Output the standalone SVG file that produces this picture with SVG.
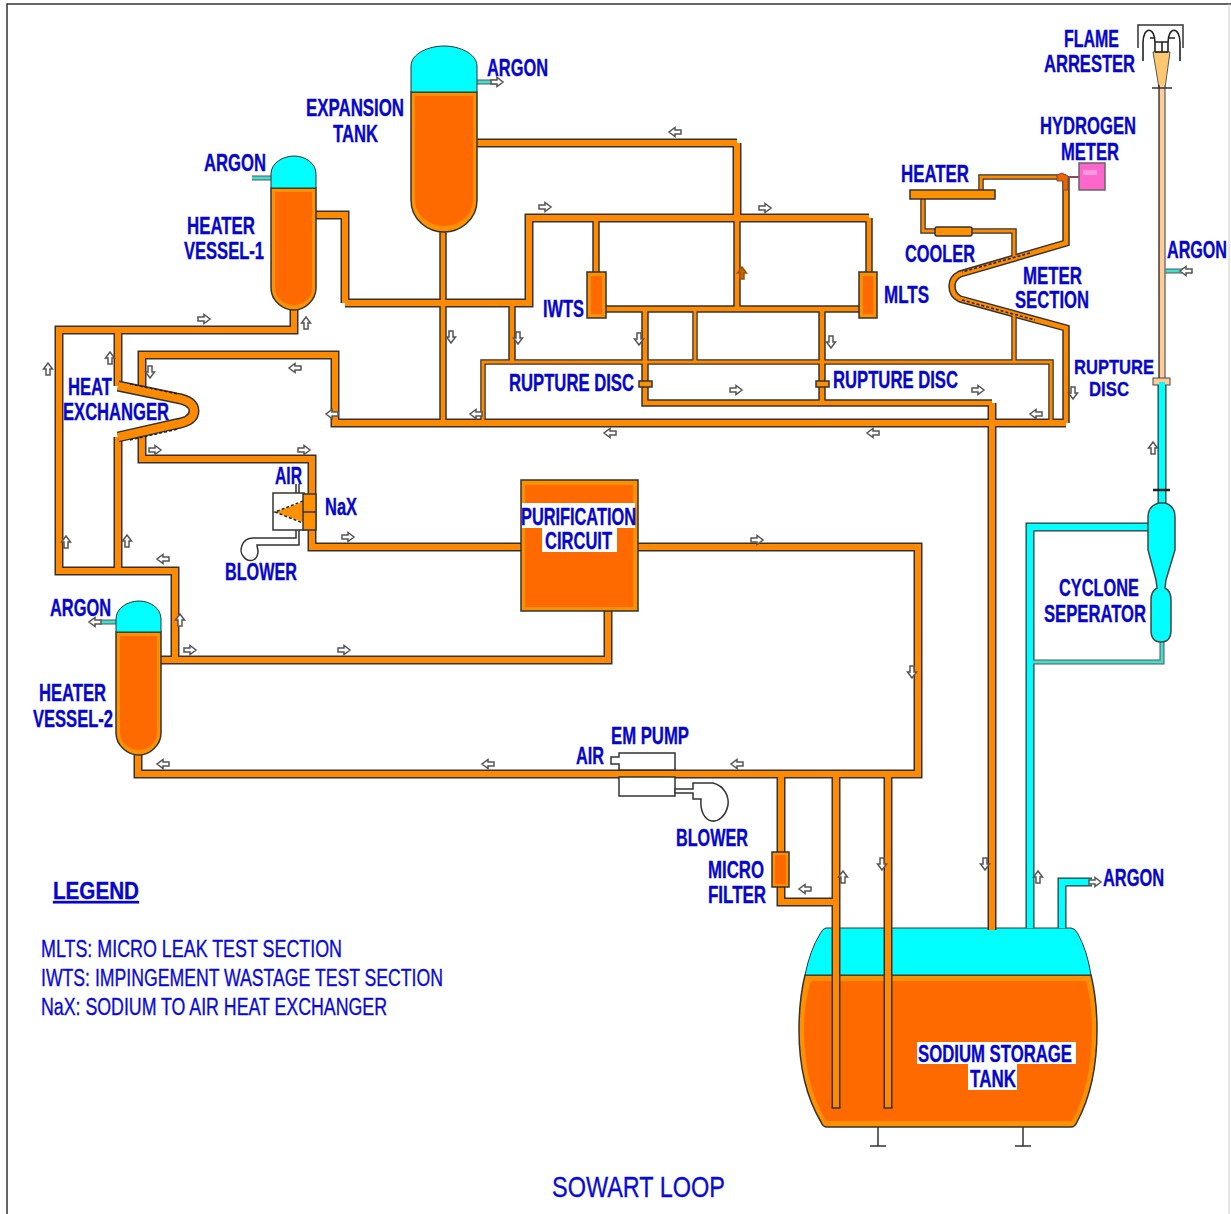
<svg xmlns="http://www.w3.org/2000/svg" width="1231" height="1214" viewBox="0 0 1231 1214">
<style>
text{font-family:"Liberation Sans",Arial,sans-serif;font-weight:bold;font-size:23px;fill:#0606CC;stroke:#0606CC;stroke-width:.35}
.r{font-weight:normal;fill:#0A0AD8;stroke:#0A0AD8;stroke-width:.35}
.sm{font-size:21px}
.s{stroke:#333;stroke-width:1.5}
.or{fill:#FF9000}.in{fill:#FF6A00}.cy{fill:#00FFFF}
.ln{fill:none;stroke:#333;stroke-width:1.5}
.wb{fill:#fff;stroke:#333;stroke-width:1.5}
.lb{fill:#fff}
.p{fill:none;stroke-linejoin:miter;stroke-linecap:butt}
.ar{fill:#fff;stroke:#555;stroke-width:1.5}
.dash{fill:none;stroke:#222;stroke-width:1.500;stroke-dasharray:3 2}
</style>
<defs>
<path id="a" d="M-6-2H0V-4.500L6 0 0 4.500V2H-6Z"/>
<g id="main">
<path d="M477 143H737"/>
<path d="M737 143V218"/>
<path d="M345 303H529V218H869"/>
<path d="M316 215H345V303"/>
<path d="M294 310V330H59V571H175V660"/>
<path d="M161 660H608V611"/>
<path d="M118 571V437"/>
<path d="M118 330V386"/>
<path d="M142 392V355H335V423H1066"/>
<path d="M142 432V459H312V547H521"/>
<path d="M638 547H918V774H138V755"/>
<path d="M781 774V852"/>
<path d="M781 887V902H836"/>
<path d="M836 774V1108"/>
<path d="M888 774V1108"/>
<path d="M992 403V930"/>
</g>
<g id="mid">
<path d="M737 218V309"/>
<path d="M596 218V272"/>
<path d="M869 218V272"/>
<path d="M606 309H859"/>
<path d="M645 309V403H992"/>
<path d="M822 309V403"/>
<path d="M512 303V362"/>
<path d="M443 232V423"/>
<path d="M1066 423V328L960 299Q952 295 952 286 952 278 960 274L1066 243V178"/>
</g>
<g id="thin">
<path d="M483 423V362H1051V423"/>
<path d="M695 309V362"/>
<path d="M1014 362V315"/>
<path d="M1014 256V231H923V199"/>
<path d="M981 190V177H1066"/>
</g>
<g id="cyanpipe">
<path d="M1030 928V527H1149"/>
<path d="M1062 928V882H1092"/>
<path d="M1162 385V505"/>
</g>
<g id="cyanthin">
<path d="M1162 642V662H1032"/>
<path d="M1165 271H1182"/>
<path d="M477 82H497"/>
<path d="M100 622H116"/>
<path d="M271 178H252"/>
</g>
</defs>

<g id="frame"><path d="M1231 4H7V1214" fill="none" stroke="#333" stroke-width="1.500"/><path d="M1229 4V1214" fill="none" stroke="#ccc"/></g>

<g id="sodium-storage-tank">
<path class="or s" d="M805 975H1091Q1097 1000 1097 1030 1097 1085 1077 1122 1075 1127 1071 1127H827Q823 1127 821 1122 799 1085 799 1030 799 1000 805 975Z"/>
<path class="in" d="M811 981H1086Q1092 1003 1092 1030 1092 1084 1072 1121H826Q804 1084 804 1030 804 1003 811 981Z"/>
<path class="cy" stroke="#333" d="M826 928H1071Q1075 928 1078 934 1087 950 1091 975H805Q810 950 820 934 823 928 826 928Z"/>
<path class="ln" d="M878 1127V1146M870 1146H886M1023 1127V1146M1015 1146H1031"/>
<rect class="lb" x="917" y="1042" width="159" height="22"/>
<rect class="lb" x="968" y="1064" width="49" height="26"/>
<text x="918" y="1062" textLength="154" lengthAdjust="spacingAndGlyphs">SODIUM STORAGE</text>
<text x="970" y="1087" textLength="46" lengthAdjust="spacingAndGlyphs">TANK</text>
</g>

<g id="connectors">
<g class="p" stroke="#333" stroke-width="5.500"><use href="#thin"/></g>
<g class="p" stroke="#333" stroke-width="7.500"><use href="#mid"/></g>
<g class="p" stroke="#333" stroke-width="9"><use href="#main"/></g>
<g class="p" stroke="#FF8A00" stroke-width="3"><use href="#thin"/></g>
<g class="p" stroke="#FF8A00" stroke-width="4.500"><use href="#mid"/></g>
<g class="p" stroke="#FF8A00" stroke-width="6"><use href="#main"/></g>
<path class="ln" d="M831.500 1108H840.500M883.500 1108H892.500"/>
<g class="p" stroke="#333" stroke-width="9"><use href="#cyanpipe"/></g>
<g class="p" stroke="#555" stroke-width="5"><use href="#cyanthin"/></g>
<g class="p" stroke="#00FFFF" stroke-width="6.500"><use href="#cyanpipe"/></g>
<g class="p" stroke="#40E0D0" stroke-width="3"><use href="#cyanthin"/></g>
<path class="dash" d="M1030 253L962 272M962 300L1035 320"/>
<g class="ar">
<use href="#a" transform="translate(675 132) rotate(180)"/>
<use href="#a" transform="translate(545 207)"/>
<use href="#a" transform="translate(765 208)"/>
<use href="#a" transform="translate(451 337) rotate(90)"/>
<use href="#a" transform="translate(518 338) rotate(90)"/>
<use href="#a" transform="translate(306 323) rotate(-90)"/>
<use href="#a" transform="translate(204 319)"/>
<use href="#a" transform="translate(48 369) rotate(-90)"/>
<use href="#a" transform="translate(110 358) rotate(-90)"/>
<use href="#a" transform="translate(150 372) rotate(90)"/>
<use href="#a" transform="translate(295 368) rotate(180)"/>
<use href="#a" transform="translate(332 414) rotate(180)"/>
<use href="#a" transform="translate(476 414) rotate(180)"/>
<use href="#a" transform="translate(610 433) rotate(180)"/>
<use href="#a" transform="translate(873 433) rotate(180)"/>
<use href="#a" transform="translate(736 390)"/>
<use href="#a" transform="translate(978 390)"/>
<use href="#a" transform="translate(1073 393) rotate(90)"/>
<use href="#a" transform="translate(1036 414) rotate(180)"/>
<use href="#a" transform="translate(831 342) rotate(90)"/>
<use href="#a" transform="translate(639 339) rotate(90)"/>
<use href="#a" transform="translate(155 450)"/>
<use href="#a" transform="translate(304 450)"/>
<use href="#a" transform="translate(348 537)"/>
<use href="#a" transform="translate(757 540)"/>
<use href="#a" transform="translate(163 559) rotate(180)"/>
<use href="#a" transform="translate(66 542) rotate(-90)"/>
<use href="#a" transform="translate(127 541) rotate(-90)"/>
<use href="#a" transform="translate(180 620) rotate(-90)"/>
<use href="#a" transform="translate(190 650)"/>
<use href="#a" transform="translate(344 650)"/>
<use href="#a" transform="translate(912 672) rotate(90)"/>
<use href="#a" transform="translate(737 764) rotate(180)"/>
<use href="#a" transform="translate(488 764) rotate(180)"/>
<use href="#a" transform="translate(163 764) rotate(180)"/>
<use href="#a" transform="translate(805 889) rotate(180)"/>
<use href="#a" transform="translate(843 877) rotate(-90)"/>
<use href="#a" transform="translate(882 864) rotate(90)"/>
<use href="#a" transform="translate(985 864) rotate(90)"/>
<use href="#a" transform="translate(1038 877) rotate(-90)"/>
<use href="#a" transform="translate(1153 448) rotate(-90)"/>
<use href="#a" transform="translate(1095 882)"/>
<use href="#a" transform="translate(1186 271) rotate(180)"/>
<use href="#a" transform="translate(497 82)"/>
<use href="#a" transform="translate(95 622) rotate(180)"/>
<use href="#a" transform="translate(742 273) rotate(-90)" style="fill:#C86400;stroke:#A05000"/>
</g>
</g>

<g id="expansion-tank">
<path class="or s" d="M411 92H477V200C477 220 460 232 444 232 428 232 411 220 411 200Z"/>
<path class="in" d="M415 96H473V200C473 216 458 226 444 226 430 226 415 216 415 200Z"/>
<path class="cy" stroke="#333" d="M411 92V66C411 54 428 46 444 46 460 46 477 54 477 66V92Z"/>
<text x="487" y="76" textLength="61" lengthAdjust="spacingAndGlyphs">ARGON</text>
<text x="306" y="116" textLength="98" lengthAdjust="spacingAndGlyphs">EXPANSION</text>
<text x="333" y="142" textLength="45" lengthAdjust="spacingAndGlyphs">TANK</text>
</g>

<g id="heater-vessel-1">
<path class="or s" d="M271 188H316V288C316 300 305 310 294 310 282 310 271 300 271 288Z"/>
<path class="in" d="M275 192H312V288C312 298 303 305 294 305 284 305 275 298 275 288Z"/>
<path class="cy" stroke="#333" d="M271 188V174C271 163 283 156 294 156 305 156 316 163 316 174V188Z"/>
<text x="204" y="171" textLength="62" lengthAdjust="spacingAndGlyphs">ARGON</text>
<text x="187" y="234" textLength="68" lengthAdjust="spacingAndGlyphs">HEATER</text>
<text x="184" y="259" textLength="80" lengthAdjust="spacingAndGlyphs">VESSEL-1</text>
</g>

<g id="heater-vessel-2">
<path class="or s" d="M116 632H161V733C161 745 150 755 139 755 127 755 116 745 116 733Z"/>
<path class="in" d="M120 636H157V733C157 743 148 750 139 750 129 750 120 743 120 733Z"/>
<path class="cy" stroke="#333" d="M116 632V619C116 608 128 601 139 601 150 601 161 608 161 619V632Z"/>
<text x="50" y="616" textLength="61" lengthAdjust="spacingAndGlyphs">ARGON</text>
<text x="39" y="701" textLength="67" lengthAdjust="spacingAndGlyphs">HEATER</text>
<text x="33" y="727" textLength="80" lengthAdjust="spacingAndGlyphs">VESSEL-2</text>
</g>

<g id="heat-exchanger">
<path class="p" stroke="#333" stroke-width="11" d="M118 386L176 398Q194 401 194 411 194 421 176 424L118 437"/>
<path class="p" stroke="#FF8A00" stroke-width="8" d="M118 386L176 398Q194 401 194 411 194 421 176 424L118 437"/>
<path class="dash" d="M130 384L178 394M130 440L178 429"/>
<text x="68" y="395" textLength="44" lengthAdjust="spacingAndGlyphs">HEAT</text>
<text x="63" y="420" textLength="106" lengthAdjust="spacingAndGlyphs">EXCHANGER</text>
</g>

<g id="nax">
<rect class="wb" x="273" y="493" width="31" height="37"/>
<path class="or" d="M303 502L275 512 303 522Z"/>
<path class="dash" d="M303 501L275 512 303 523"/>
<rect class="or s" x="303" y="494" width="13" height="36"/>
<path class="ln" d="M303 512H316M296 493V484M299 493V484"/>
<path class="ln" d="M296 530V538H263H253C241 538 239 552 243 556 248 563 257 562 258 552 258 549 257 547 257 545H299V530"/>
<text x="275" y="484" textLength="27" lengthAdjust="spacingAndGlyphs">AIR</text>
<text x="325" y="515" textLength="32" lengthAdjust="spacingAndGlyphs">NaX</text>
<text x="225" y="580" textLength="72" lengthAdjust="spacingAndGlyphs">BLOWER</text>
</g>

<g id="purification-circuit">
<rect class="or s" x="521" y="480" width="117" height="131"/>
<rect class="in" x="525" y="485" width="108" height="122"/>
<rect class="lb" x="522" y="503" width="113" height="25"/>
<rect class="lb" x="542" y="528" width="75" height="24"/>
<text x="521" y="525" textLength="115" lengthAdjust="spacingAndGlyphs">PURIFICATION</text>
<text x="545" y="549" textLength="67" lengthAdjust="spacingAndGlyphs">CIRCUIT</text>
</g>

<g id="iwts">
<rect class="or s" x="587" y="272" width="19" height="46"/>
<rect class="in" x="591" y="276" width="11" height="38"/>
<text x="543" y="317" textLength="41" lengthAdjust="spacingAndGlyphs">IWTS</text>
</g>
<g id="mlts">
<rect class="or s" x="859" y="272" width="18" height="46"/>
<rect class="in" x="863" y="276" width="10" height="38"/>
<text x="884" y="303" textLength="45" lengthAdjust="spacingAndGlyphs">MLTS</text>
</g>
<g id="rupture-disc-1">
<path class="or s" d="M639 381H652V387H639Z"/>
<text x="509" y="391" textLength="125" lengthAdjust="spacingAndGlyphs">RUPTURE DISC</text>
</g>
<g id="rupture-disc-2">
<path class="or s" d="M816 381H829V387H816Z"/>
<text x="833" y="388" textLength="125" lengthAdjust="spacingAndGlyphs">RUPTURE DISC</text>
</g>

<g id="heater">
<rect class="or s" x="910" y="190" width="85" height="9"/>
<text x="901" y="182" textLength="68" lengthAdjust="spacingAndGlyphs">HEATER</text>
</g>
<g id="cooler">
<rect class="or s" x="935" y="227" width="37" height="9" rx="2"/>
<text x="905" y="262" textLength="70" lengthAdjust="spacingAndGlyphs">COOLER</text>
</g>
<g id="meter-section">
<text x="1023" y="284" textLength="59" lengthAdjust="spacingAndGlyphs">METER</text>
<text x="1015" y="308" textLength="74" lengthAdjust="spacingAndGlyphs">SECTION</text>
</g>
<g id="hydrogen-meter">
<path fill="none" stroke="#945" stroke-width="2" d="M1068 177H1079"/>
<path fill="#E86800" stroke="#844" d="M1057 175L1062 173 1068 176V190H1063V181H1057Z"/>
<rect fill="#FF66CC" stroke="#666" stroke-width="1.500" x="1079" y="163" width="26" height="27"/>
<rect fill="#FF99DD" x="1083" y="170" width="14" height="5"/>
<text x="1040" y="134" textLength="96" lengthAdjust="spacingAndGlyphs">HYDROGEN</text>
<text x="1061" y="160" textLength="58" lengthAdjust="spacingAndGlyphs">METER</text>
</g>

<g id="flame-arrester">
<path class="ln" d="M1138 48V25H1183V48"/>
<path fill="#FFC870" stroke="#555" d="M1153 52H1170L1165 88H1159Z"/>
<path fill="none" stroke="#222" stroke-width="1.600" d="M1143 61V43C1143 26 1155 26 1155 43V52M1168 52V43C1168 26 1180 26 1180 43V61M1150 38H1155M1168 38H1175M1155 42H1168M1155 52H1168M1162 42V52"/>
<rect fill="#FFCC99" x="1159" y="85" width="6" height="293"/>
<path fill="none" stroke="#111" stroke-width="1.200" d="M1159 85V378"/>
<path fill="none" stroke="#777" stroke-width="1.500" d="M1165 85V378"/>
<path class="ln" d="M1152 88H1172"/>
<text x="1064" y="47" textLength="55" lengthAdjust="spacingAndGlyphs">FLAME</text>
<text x="1044" y="72" textLength="91" lengthAdjust="spacingAndGlyphs">ARRESTER</text>
<text x="1167" y="258" textLength="60" lengthAdjust="spacingAndGlyphs">ARGON</text>
</g>
<g id="rupture-disc-3">
<rect fill="#FFCC99" stroke="#444" x="1153" y="378" width="17" height="7"/>
<rect class="cy" x="1159" y="382" width="6" height="5"/>
<text class="sm" x="1074" y="374" textLength="80" lengthAdjust="spacingAndGlyphs">RUPTURE</text>
<text class="sm" x="1089" y="396" textLength="40" lengthAdjust="spacingAndGlyphs">DISC</text>
</g>

<g id="cyclone-seperator">
<path class="ln" style="stroke-width:2.500;stroke:#222" d="M1153 490H1170"/>
<path class="cy" stroke="#444" stroke-width="1.500" d="M1159 503C1151 505 1148 510 1148 517V550L1156 580 1157 588C1153 590 1151 593 1151 600V630C1151 638 1155 642 1161 642 1167 642 1171 638 1171 630V600C1171 593 1169 590 1165 588L1166 580 1175 550V517C1175 510 1172 505 1165 503Z"/>
<text x="1059" y="596" textLength="80" lengthAdjust="spacingAndGlyphs">CYCLONE</text>
<text x="1044" y="622" textLength="102" lengthAdjust="spacingAndGlyphs">SEPERATOR</text>
</g>

<g id="em-pump">
<path class="wb" d="M619 753H675V770H619V764H611V757H619Z"/>
<rect class="wb" x="619" y="777" width="56" height="19"/>
<path class="wb" d="M675 789H693V783H713C725 786 729 797 728 805 726 816 718 822 712 821 704 820 700 810 701 799H693V793H675Z"/>
<text x="611" y="744" textLength="78" lengthAdjust="spacingAndGlyphs">EM PUMP</text>
<text x="576" y="764" textLength="28" lengthAdjust="spacingAndGlyphs">AIR</text>
<text x="676" y="846" textLength="72" lengthAdjust="spacingAndGlyphs">BLOWER</text>
</g>

<g id="micro-filter">
<rect class="or s" x="772" y="852" width="17" height="35"/>
<rect class="in" x="775" y="855" width="11" height="29"/>
<text x="708" y="878" textLength="56" lengthAdjust="spacingAndGlyphs">MICRO</text>
<text x="708" y="903" textLength="58" lengthAdjust="spacingAndGlyphs">FILTER</text>
</g>

<g id="tank-argon"><text x="1103" y="886" textLength="61" lengthAdjust="spacingAndGlyphs">ARGON</text></g>

<g id="legend">
<text x="53" y="899" textLength="86" lengthAdjust="spacingAndGlyphs" text-decoration="underline">LEGEND</text>
<text class="r" x="41" y="957" textLength="301" lengthAdjust="spacingAndGlyphs">MLTS: MICRO LEAK TEST SECTION</text>
<text class="r" x="41" y="986" textLength="402" lengthAdjust="spacingAndGlyphs">IWTS: IMPINGEMENT WASTAGE TEST SECTION</text>
<text class="r" x="41" y="1015" textLength="346" lengthAdjust="spacingAndGlyphs">NaX: SODIUM TO AIR HEAT EXCHANGER</text>
</g>
<g id="title"><text class="r" style="font-size:30px" x="552" y="1197" textLength="173" lengthAdjust="spacingAndGlyphs">SOWART LOOP</text></g>
</svg>
